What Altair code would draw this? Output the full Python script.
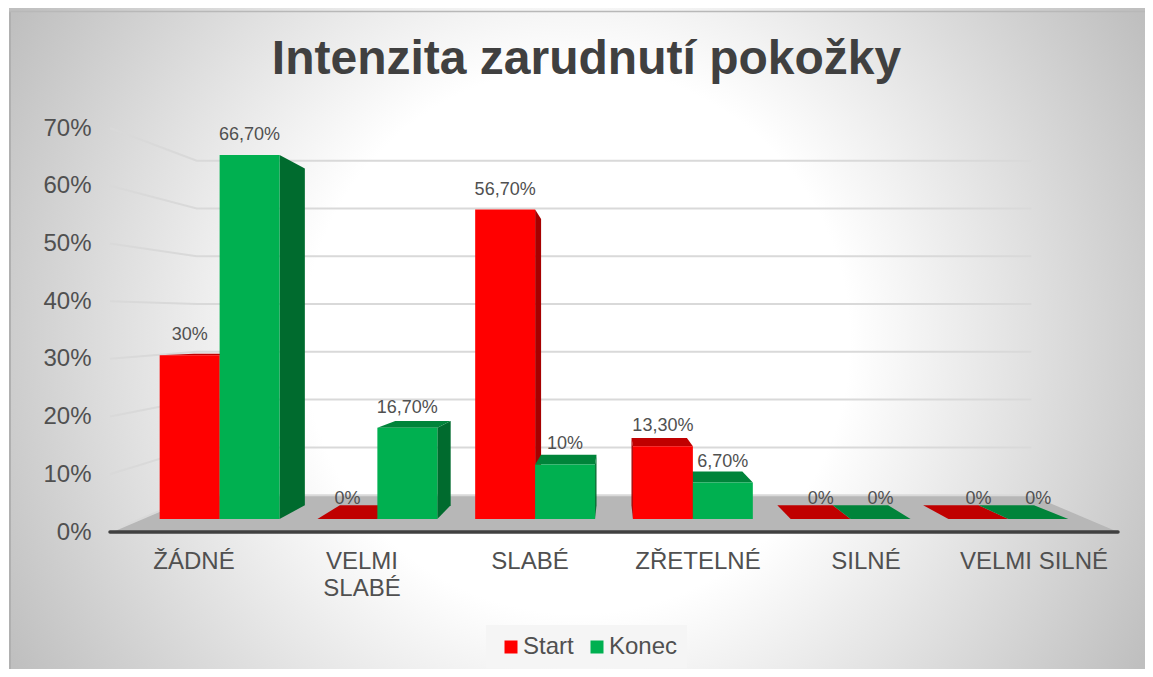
import altair as alt
import pandas as pd

categories = ["ŽÁDNÉ", "VELMI\nSLABÉ", "SLABÉ", "ZŘETELNÉ", "SILNÉ", "VELMI SILNÉ"]
start_values = [30, 0, 56.7, 13.3, 0, 0]
konec_values = [66.7, 16.7, 10, 6.7, 0, 0]
start_labels = ["30%", "0%", "56,70%", "13,30%", "0%", "0%"]
konec_labels = ["66,70%", "16,70%", "10%", "6,70%", "0%", "0%"]
tick_values = [0, 10, 20, 30, 40, 50, 60, 70]
title_text = "Intenzita zarudnutí pokožky"
series_names = ["Start", "Konec"]
front_colors = ["#FF0000", "#00B050"]
side_colors = ["#A60000", "#006B2E"]
top_colors = ["#C00000", "#00843A"]
ink = "#505050"

# layout: one category is 168 px wide on the floor's front edge, 1% is 5.771 px there
W, H = 1137, 661
CAT_PX, PCT_PX = 168.0, 5.771
X0_PAGE, Y0_PAGE = 110.0, 532.0
X_DOMAIN = [(8 - X0_PAGE) / CAT_PX, (8 + W - X0_PAGE) / CAT_PX]
Y_DOMAIN = [(Y0_PAGE - (8 + H)) / PCT_PX, (Y0_PAGE - 8) / PCT_PX]

# simple perspective towards the point where the planes converge
HORIZON = (Y0_PAGE - 318.0) / PCT_PX
S_WALL, S_BACK, S_BACK_X, S_FRONT, S_FRONT_H = 0.828, 0.875, 0.868, 0.939, 0.9456
HALF = 0.38


def pu(u, s):
    return 3 + (u - 3) * s


def pv(v, s):
    return HORIZON + (v - HORIZON) * s


def fv(v):
    return pv(0, S_FRONT) + v * S_FRONT_H


x_scale = alt.Scale(domain=X_DOMAIN, range=[0, W], nice=False, zero=False)
y_scale = alt.Scale(domain=Y_DOMAIN, range=[H, 0], nice=False, zero=False)
y_axis = alt.Axis(
    values=tick_values, labelExpr="datum.value + '%'", grid=False, domain=False, ticks=False,
    title=None, orient="left", offset=-85, labelPadding=2, labelFontSize=24,
    labelFont="Liberation Sans", labelColor=ink, zindex=1)
X = lambda f: alt.X(f, type="quantitative", scale=x_scale, axis=None)
Y = lambda f: alt.Y(f, type="quantitative", scale=y_scale, axis=y_axis)

fronts, sides, tops, labels = [], [], [], []
for j, (name, vals, labs) in enumerate(zip(series_names, [start_values, konec_values], [start_labels, konec_labels])):
    for i, (v, lab) in enumerate(zip(vals, labs)):
        c = i + 0.5
        u0, u1 = (c - HALF, c) if j == 0 else (c, c + HALF)
        fronts.append(dict(series=name, x=pu(u0, S_FRONT), x2=pu(u1, S_FRONT), y=fv(0), y2=fv(v)))
        labels.append(dict(x=pu((u0 + u1) / 2, S_FRONT), y=fv(v), text=lab))
        if v > 0:
            edge = u1 if u1 <= 3 else u0
            sides.append(dict(j=j, bar=f"{i}-{j}", x=pu(edge, S_FRONT), y=fv(0), y2=fv(v)))
            sides.append(dict(j=j, bar=f"{i}-{j}", x=pu(edge, S_BACK_X), y=pv(0, S_BACK), y2=pv(v, S_BACK)))
        if pv(v, 1) < HORIZON:
            tops.append(dict(j=j, bar=f"{i}-{j}", y=fv(v), x=pu(u0, S_FRONT), x2=pu(u1, S_FRONT)))
            tops.append(dict(j=j, bar=f"{i}-{j}", y=pv(v, S_BACK), x=pu(u0, S_BACK_X), x2=pu(u1, S_BACK_X)))
fronts, sides, tops, labels = map(pd.DataFrame, (fronts, sides, tops, labels))

floor = pd.DataFrame([
    dict(y=pv(0, S_WALL), x=pu(0, S_WALL), x2=pu(6, S_WALL)),
    dict(y=pv(0, 1), x=pu(0, 1), x2=pu(6, 1)),
])
grid = pd.DataFrame([
    dict(k=t, order=n, x=x, y=pv(t, s))
    for t in tick_values
    for n, (x, s) in enumerate([(pu(0, 1), 1), (pu(0, S_WALL), S_WALL), (pu(6, S_WALL), S_WALL)])
])

panel = alt.Chart(alt.Data(values=[{}])).mark_rect(
    clip=True,
    fill=alt.RadialGradient(
        gradient="radial", x1=0.5, y1=0.5, x2=0.5, y2=0.5, r1=0, r2=0.572,
        stops=[alt.GradientStop(offset=0, color="#FFFFFF"), alt.GradientStop(offset=0.42, color="#FFFFFF"),
               alt.GradientStop(offset=1, color="#BFBFBF")],
    ),
).encode(x=alt.value(1), x2=alt.value(1137), y=alt.value(3 + 330 - 568), y2=alt.value(3 + 330 + 568))
edge_left = alt.Chart(alt.Data(values=[{}])).mark_rule(color="#B0B0B0", size=2).encode(
    x=alt.value(2), y=alt.value(3), y2=alt.value(H))
edge_top = alt.Chart(alt.Data(values=[{}])).mark_rule(color="#B8B8B8", size=1.5).encode(
    x=alt.value(1), x2=alt.value(W), y=alt.value(3.5))

legend_box = alt.Chart(alt.Data(values=[{}])).mark_rect(fill="#F5F5F5").encode(
    x=alt.value(478), x2=alt.value(679), y=alt.value(617), y2=alt.value(660))

floor_l = alt.Chart(floor).mark_area(color="#B7B7B7", orient="horizontal").encode(
    y=Y("y"), x=X("x"), x2="x2")
grid_l = alt.Chart(grid).mark_line(color="#D9D9D9", strokeWidth=2).encode(
    x=X("x"), y=Y("y"), detail="k:N", order="order:Q")
axis_line = alt.Chart(pd.DataFrame({"x": [0], "x2": [6], "y": [0]})).mark_rule(
    color="#404040", size=3.5, strokeCap="round").encode(x=X("x"), x2="x2", y=Y("y"))

faces = []
for j in (0, 1):
    faces.append(alt.Chart(sides[sides.j == j]).mark_area(color=side_colors[j], orient="vertical").encode(
        x=X("x"), y=Y("y"), y2="y2", detail="bar:N"))
    faces.append(alt.Chart(tops[tops.j == j]).mark_area(color=top_colors[j], orient="horizontal").encode(
        y=Y("y"), x=X("x"), x2="x2", detail="bar:N"))

front = alt.Chart(fronts).mark_rect().encode(
    x=X("x"), x2="x2", y=Y("y"), y2="y2",
    color=alt.Color("series:N", scale=alt.Scale(domain=series_names, range=front_colors), legend=alt.Legend(
        orient="none", legendX=491, legendY=627, direction="horizontal", title=None, symbolType="square",
        symbolSize=169, symbolStrokeWidth=0, labelFontSize=24, labelFont="Liberation Sans", labelColor=ink,
        labelOffset=0, columnPadding=11, padding=0)),
)

value_text = alt.Chart(labels).mark_text(
    fontSize=18, font="Liberation Sans", color=ink, baseline="middle", align="center", dy=-20,
).encode(x=X("x"), y=Y("y"), text="text:N")

cat_text = alt.Chart(pd.DataFrame({"x": [i + 0.5 for i in range(6)], "text": categories})).mark_text(
    fontSize=24, font="Liberation Sans", color=ink, baseline="alphabetic", align="center",
    lineBreak="\n", lineHeight=27,
).encode(x=X("x"), y=alt.value(561), text="text:N")

chart = alt.layer(
    panel, edge_left, edge_top, legend_box, floor_l, grid_l, axis_line, *faces, front, value_text, cat_text
).properties(
    width=W, height=H, padding=0, autosize=alt.AutoSizeParams(type="none"),
    title=alt.TitleParams(title_text, font="Liberation Sans", fontSize=48, fontWeight="bold", color="#404040",
                          anchor="middle", offset=-76, dx=10, zindex=1),
).configure_view(stroke=None)

chart.save("out.html", embed_options={"renderer": "svg", "actions": False})
